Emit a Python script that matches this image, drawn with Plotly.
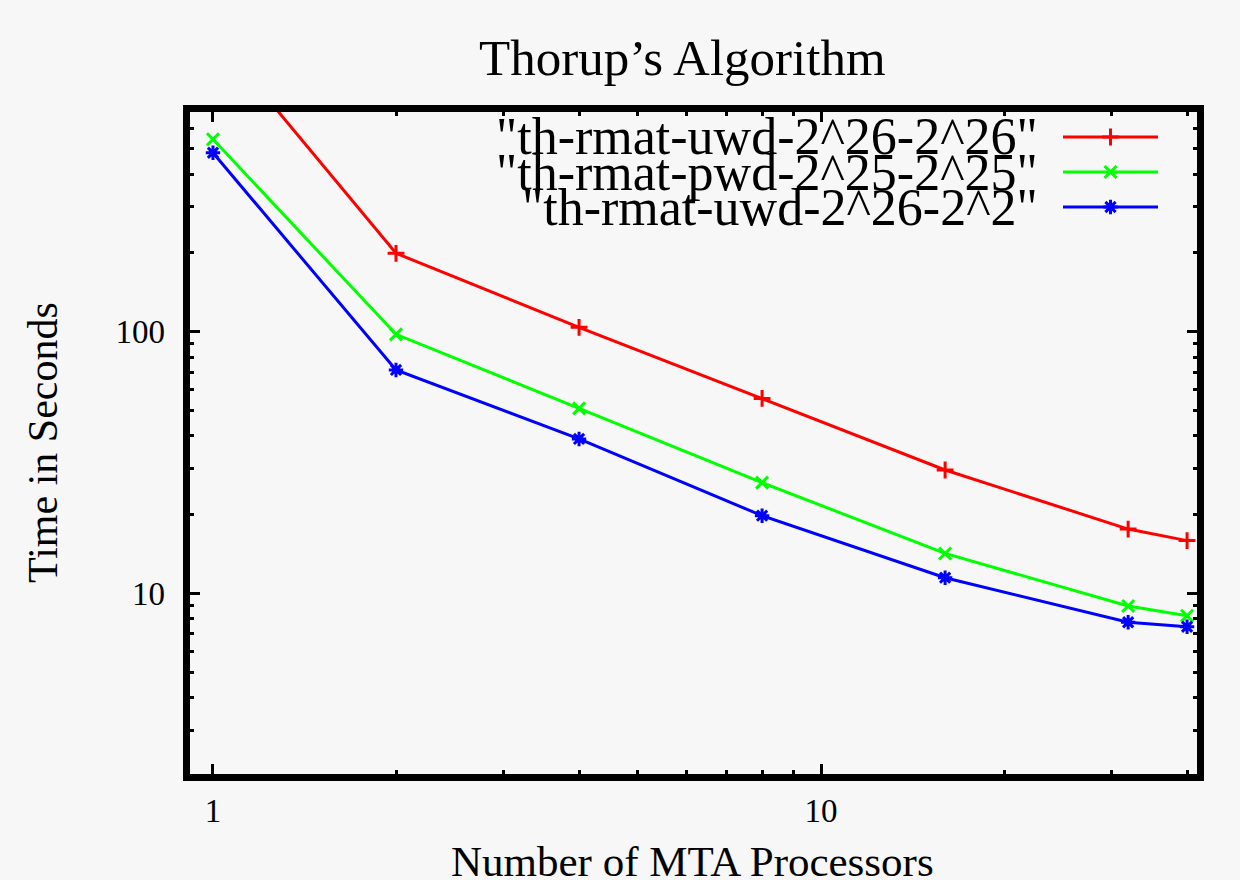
import plotly.graph_objects as go

# ---- data ----
processors = [1, 2, 4, 8, 16, 32, 40]
uwd_26_26 = [1385, 199.4, 103.9, 55.6, 29.6, 17.6, 15.9]
pwd_25_25 = [544, 97.7, 50.9, 26.5, 14.2, 8.94, 8.21]
uwd_26_2 = [483, 71.4, 38.9, 19.8, 11.47, 7.75, 7.45]

series_names = ['"th-rmat-uwd-2^26-2^26"', '"th-rmat-pwd-2^25-2^25"', '"th-rmat-uwd-2^26-2^2"']
series_values = [uwd_26_26, pwd_25_25, uwd_26_2]
series_colors = ["#ff0000", "#00ff00", "#0000ff"]
series_symbols = ["cross-thin-open", "x-thin-open", "asterisk-open"]

x_major = [1, 10]
x_minor = [2, 3, 4, 5, 6, 7, 8, 9, 20, 30, 40]
y_major = [10, 100]
y_minor = [3, 4, 5, 6, 7, 8, 9, 20, 30, 40, 50, 60, 70, 80, 90, 200, 300, 400, 500, 600, 700]

title_text = "Thorup\u2019s Algorithm"
x_title = "Number of MTA Processors"
y_title = "Time in Seconds"

# ---- layout geometry (pixels) ----
W, H = 1240, 880
L, R, T, B = 190, 1197, 112, 774
PW, PH = R - L, B - T
BG = "#f7f7f7"
FONT = "Liberation Serif"


def px(xp):
    return (xp - L) / PW


def py(yp):
    return 1 - (yp - T) / PH


fig = go.Figure()
for name, vals, col, sym in zip(series_names, series_values, series_colors, series_symbols):
    fig.add_trace(go.Scatter(
        x=processors, y=vals, mode="lines+markers", name=name,
        line=dict(color=col, width=3),
        marker=dict(symbol=sym, size=12, color=col, line=dict(color=col, width=3)),
        showlegend=False, cliponaxis=True,
    ))

# custom gnuplot-style legend (text right-aligned, sample on the right)
leg_rows_y = [137, 172, 207]
leg_text_right = 1040
leg_line = (1063, 1158)
for name, col, sym, yy in zip(series_names, series_colors, series_symbols, leg_rows_y):
    fig.add_annotation(x=px(leg_text_right), y=py(yy), xref="paper", yref="paper",
                       text=name, showarrow=False, xanchor="right", yanchor="middle",
                       font=dict(family=FONT, size=52, color="black"))
    fig.add_shape(type="line", xref="paper", yref="paper",
                  x0=px(leg_line[0]), x1=px(leg_line[1]), y0=py(yy), y1=py(yy),
                  line=dict(color=col, width=3))
    fig.add_trace(go.Scatter(
        x=[px((leg_line[0] + leg_line[1]) / 2)], y=[py(yy)], xaxis="x2", yaxis="y2",
        mode="markers", showlegend=False, hoverinfo="skip",
        marker=dict(symbol=sym, size=12, color=col, line=dict(color=col, width=3)),
    ))

# frame
fig.add_shape(type="rect", xref="paper", yref="paper",
              x0=-3.5 / PW, x1=1 + 3.5 / PW, y0=-3.5 / PH, y1=1 + 3.5 / PH,
              line=dict(color="black", width=7), layer="above")

# titles
fig.add_annotation(x=px(682), y=py(58), xref="paper", yref="paper",
                   text=title_text, showarrow=False, xanchor="center", yanchor="middle",
                   font=dict(family=FONT, size=51, color="black"))
fig.add_annotation(x=px(692), y=py(861), xref="paper", yref="paper",
                   text=x_title, showarrow=False, xanchor="center", yanchor="middle",
                   font=dict(family=FONT, size=43, color="black"))
fig.add_annotation(x=px(43), y=py(443), xref="paper", yref="paper",
                   text=y_title, showarrow=False, xanchor="center", yanchor="middle",
                   textangle=-90, font=dict(family=FONT, size=42, color="black"))

axis_common = dict(
    type="log", showgrid=False, zeroline=False, showline=False,
    ticks="inside", ticklen=10, tickwidth=3, tickcolor="black", mirror="ticks",
    tickfont=dict(family=FONT, size=33, color="black"),
)
fig.update_layout(
    width=W, height=H, autosize=False,
    margin=dict(l=L, r=W - R, t=T, b=H - B),
    paper_bgcolor=BG, plot_bgcolor=BG,
    xaxis=dict(range=[-0.0378, 1.6184], tickvals=x_major, ticktext=[str(v) for v in x_major],
               minor=dict(tickvals=x_minor, ticks="inside", ticklen=4, tickwidth=3, tickcolor="black"),
               ticklabelstandoff=14, **axis_common),
    yaxis=dict(range=[0.3092, 2.8398], tickvals=y_major, ticktext=[str(v) for v in y_major],
               minor=dict(tickvals=y_minor, ticks="inside", ticklen=4, tickwidth=3, tickcolor="black"),
               ticklabelstandoff=24, **axis_common),
    xaxis2=dict(range=[0, 1], overlaying="x", visible=False),
    yaxis2=dict(range=[0, 1], overlaying="y", visible=False),
)

fig.write_html(
    "out.html",
    config={"displayModeBar": False},
    post_script="document.body.style.margin='0';document.body.style.background='#f7f7f7';",
)
